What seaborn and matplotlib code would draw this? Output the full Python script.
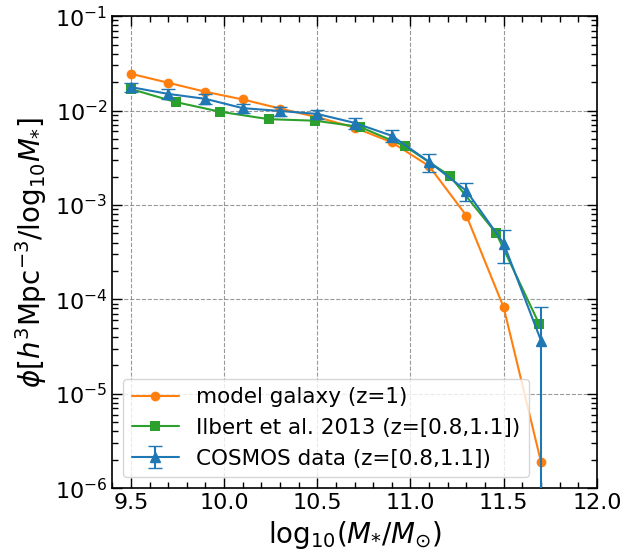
import numpy as np
import pandas as pd
import seaborn as sns
import matplotlib.pyplot as plt

# model galaxy stellar mass function (z=1)
model_x = [9.5, 9.7, 9.9, 10.1, 10.3, 10.5, 10.7, 10.9, 11.1, 11.3, 11.5, 11.7]
model_phi = [0.0245, 0.0197, 0.0158, 0.0131, 0.0105, 0.0085, 0.0066, 0.0046,
             0.00258, 7.7e-4, 8.2e-5, 1.9e-6]

# Ilbert et al. 2013
ilbert_x = [9.5, 9.74, 9.98, 10.24, 10.49, 10.73, 10.97, 11.21, 11.46, 11.69]
ilbert_phi = [0.0169, 0.0123, 0.0097, 0.0081, 0.0078, 0.0067, 0.0042,
              0.00204, 5.0e-4, 5.5e-5]

# COSMOS data
cosmos_x = [9.5, 9.7, 9.9, 10.1, 10.3, 10.5, 10.7, 10.9, 11.1, 11.3, 11.5, 11.7]
cosmos_phi = [0.0177, 0.0150, 0.0133, 0.0106, 0.0099, 0.0092, 0.0074, 0.0054,
              0.00286, 0.00141, 3.9e-4, 3.66e-5]
cosmos_err = [0.0020, 0.0019, 0.0016, 0.0012, 0.0011, 0.0010, 0.0010, 0.0008,
              0.0006, 0.0003, 1.5e-4, 4.6e-5]

model = pd.DataFrame({"x": model_x, "phi": model_phi})
ilbert = pd.DataFrame({"x": ilbert_x, "phi": ilbert_phi})

sns.set_style("ticks", {"axes.edgecolor": "black", "text.color": "black",
                        "axes.labelcolor": "black", "xtick.color": "black",
                        "ytick.color": "black"})
plt.rcParams["font.family"] = ["DejaVu Sans"]
plt.rcParams["mathtext.fontset"] = "dejavusans"

fig, ax = plt.subplots(figsize=(6.27, 5.56), dpi=100)
fig.subplots_adjust(left=0.179, right=0.952, top=0.971, bottom=0.122)

sns.lineplot(data=model, x="x", y="phi", ax=ax, color="#ff7f0e", marker="o",
             markersize=7, markeredgewidth=0, linewidth=1.5,
             label="model galaxy (z=1)")
sns.lineplot(data=ilbert, x="x", y="phi", ax=ax, color="#2ca02c", marker="s",
             markersize=7, markeredgewidth=0, linewidth=1.5,
             label="Ilbert et al. 2013 (z=[0.8,1.1])")
ax.errorbar(cosmos_x, cosmos_phi, yerr=cosmos_err, color="#1f77b4", marker="^",
            markersize=7, linewidth=1.5, capsize=5, elinewidth=1.5,
            label="COSMOS data (z=[0.8,1.1])", zorder=3)

ax.set_yscale("log")
ax.set_xlim(9.4, 12.0)
ax.set_ylim(1e-6, 1e-1)
ax.set_xticks([9.5, 10.0, 10.5, 11.0, 11.5, 12.0])
ax.set_xticks(np.arange(9.4, 12.01, 0.1), minor=True)
ax.tick_params(which="both", direction="in", top=True, right=True, labelsize=16)
ax.tick_params(which="major", length=7, width=1)
ax.tick_params(which="minor", length=4, width=1)
ax.grid(True, which="major", linestyle="--", color="gray", alpha=0.8)

ax.set_xlabel(r"$\mathrm{log}_{10}(M_{*}/M_{\odot})$", fontsize=20)
ax.set_ylabel(r"$\phi[h^3\mathrm{Mpc}^{-3}/\mathrm{log}_{10}M_{*}]$", fontsize=20)

for s in ax.spines.values():
    s.set_linewidth(1.2)

ax.legend(loc="lower left", fontsize=15.5, framealpha=0.8, handlelength=2.2)

plt.savefig("out.png", dpi=100)
